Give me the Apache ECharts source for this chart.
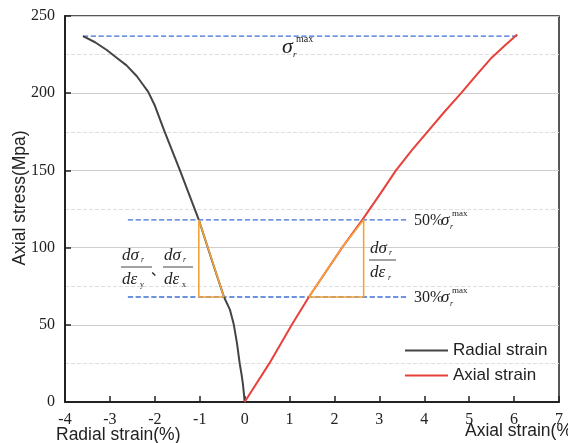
<!DOCTYPE html>
<html>
<head>
<meta charset="utf-8">
<script src="https://cdn.jsdelivr.net/npm/echarts@6/dist/echarts.min.js"></script>
<style>html,body{margin:0;padding:0;background:#fff}#c{width:568px;height:443px}</style>
</head>
<body>
<div id="c"></div>
<script>
// ---- data ----
const xTickLabels = ['-4','-3','-2','-1','0','1','2','3','4','5','6','7'];
const yTickLabels = ['0','50','100','150','200','250'];
const radialStrain = [0, -0.015, -0.04, -0.07, -0.11, -0.17, -0.24, -0.33, -0.46, -0.71, -1.02, -1.44, -1.78, -2.0, -2.15, -2.25, -2.4, -2.63, -2.85, -3.07, -3.33, -3.6];
const radialStress = [0, 5, 12, 18, 25, 38, 50, 60, 68, 90, 118, 150, 175, 192, 201, 205, 211, 218, 223, 228, 233, 237];
const axialStrain = [0, 0.55, 1.05, 1.43, 2.17, 2.62, 3.0, 3.37, 3.72, 4.07, 4.45, 4.82, 5.17, 5.5, 5.8, 6.07];
const axialStress = [0, 25, 50, 68, 100, 118, 134, 150, 163, 175, 188, 200, 212, 223, 231, 238];
const peakStress = 237;
const stress50 = 118;
const stress30 = 68;
const peakLineX = [-3.6, 6.07];
const refLineX = [-2.6, 3.62];
const leftTriX = [-1.02, -0.46];
const rightTriX = [1.43, 2.65];

const zip = (xs, ys) => xs.map((x, i) => [x, ys[i]]);
const serif = '"Liberation Serif", "DejaVu Serif", serif';
const sans = '"Liberation Sans", Arial, sans-serif';
const BLUE = '#3c6fd6', ORANGE = '#f2a43a';

const chart = echarts.init(document.getElementById('c'));

function txt(x, y, text, size, opts) {
  opts = opts || {};
  return {
    type: 'text', x: x, y: y, rotation: opts.rotation || 0, z: 100,
    style: {
      text: text,
      font: (opts.italic ? 'italic ' : '') + size + 'px ' + (opts.family || serif),
      fill: opts.color || '#222',
      align: opts.align || 'left',
      verticalAlign: opts.va || 'middle'
    }
  };
}
function bar(x1, x2, y) {
  return { type: 'line', z: 100, shape: { x1: x1, y1: y, x2: x2, y2: y }, style: { stroke: '#444', lineWidth: 1 } };
}
function sigmaLabel(x, y, prefix) {
  const els = [];
  let sx = x;
  if (prefix) { els.push(txt(x, y, prefix, 16)); sx = x + 27; }
  els.push(txt(sx, y, 'σ', 17, { italic: true }));
  els.push(txt(sx + 11, y - 7, 'max', 9));
  els.push(txt(sx + 9, y + 6, 'r', 8, { italic: true }));
  return els;
}
function frac(x, y, sub1, sub2, w) {
  return [
    txt(x, y - 11, 'dσ', 17, { italic: true }),
    txt(x + 19, y - 7, sub1, 8, { italic: true }),
    bar(x - 1, x + w, y),
    txt(x, y + 13, 'dε', 17, { italic: true }),
    txt(x + 18, y + 18, sub2, 8, { italic: sub2 === 'r' })
  ];
}

const graphics = [].concat(
  [txt(20, 198, 'Axial stress(Mpa)', 17.5, { family: sans, rotation: Math.PI / 2, align: 'center' })],
  [txt(56, 435, 'Radial strain(%)', 17.5, { family: sans })],
  [txt(465, 431, 'Axial strain(%', 17.5, { family: sans })],
  [txt(282, 47, 'σ', 22, { italic: true }), txt(296, 39, 'max', 10), txt(293, 55, 'r', 9, { italic: true })],
  sigmaLabel(414, 221, '50%'),
  sigmaLabel(414, 298, '30%'),
  frac(122, 267, 'r', 'y', 30),
  [txt(151, 270, '、', 14, { family: '"Noto Sans CJK SC", sans-serif' })],
  frac(164, 267, 'r', 'x', 29),
  frac(370, 260, 'r', 'r', 26)
);

const helper = (data, color, type, width) => ({
  type: 'line', data: data, showSymbol: false, silent: true, z: 3,
  lineStyle: { color: color, type: type, width: width }, itemStyle: { color: color }
});

chart.setOption({
  animation: false,
  backgroundColor: '#fff',
  grid: { left: 65, right: 9, top: 16, bottom: 41, show: true, borderColor: '#222', borderWidth: 1.5, backgroundColor: 'transparent' },
  legend: {
    data: ['Radial strain', 'Axial strain'],
    orient: 'vertical', left: 400, top: 337, itemWidth: 43, itemHeight: 2, itemGap: 8, icon: 'rect',
    textStyle: { fontFamily: sans, fontSize: 17, color: '#222' }
  },
  xAxis: {
    type: 'value', min: -4, max: 7, interval: 1,
    axisLine: { onZero: false, lineStyle: { color: '#222', width: 2 } },
    axisTick: { inside: true, length: 6, lineStyle: { color: '#222', width: 1.5 } },
    axisLabel: { fontFamily: serif, fontSize: 16, color: '#222', margin: 10, formatter: v => xTickLabels[v + 4] },
    splitLine: { show: false }
  },
  yAxis: {
    type: 'value', min: 0, max: 250, interval: 50,
    axisLine: { show: true, onZero: false, lineStyle: { color: '#222', width: 2 } },
    axisTick: { inside: true, length: 6, lineStyle: { color: '#222', width: 1.5 } },
    axisLabel: { fontFamily: serif, fontSize: 16, color: '#222', margin: 10, formatter: v => yTickLabels[v / 50] },
    splitLine: { lineStyle: { color: '#cfcfcf', width: 1 } },
    minorTick: { show: false, splitNumber: 2 },
    minorSplitLine: { show: true, lineStyle: { color: '#dedede', type: 'dashed', width: 1 } }
  },
  series: [
    helper([[peakLineX[0], peakStress], [peakLineX[1], peakStress]], BLUE, 'dashed', 1.3),
    helper([[refLineX[0], stress50], [refLineX[1], stress50]], BLUE, 'dashed', 1.3),
    helper([[refLineX[0], stress30], [refLineX[1], stress30]], BLUE, 'dashed', 1.3),
    {
      name: 'Radial strain', type: 'line', data: zip(radialStrain, radialStress), showSymbol: false, z: 4,
      lineStyle: { color: '#444', width: 2, join: 'round' }, itemStyle: { color: '#444' }
    },
    {
      name: 'Axial strain', type: 'line', data: zip(axialStrain, axialStress), showSymbol: false, z: 4,
      lineStyle: { color: '#e8413b', width: 2, join: 'round' }, itemStyle: { color: '#e8413b' }
    },
    Object.assign(helper([[leftTriX[0], stress50], [leftTriX[0], stress30], [leftTriX[1], stress30], [leftTriX[0], stress50]], ORANGE, 'solid', 1.6), { z: 5 }),
    Object.assign(helper([[rightTriX[0], stress30], [rightTriX[1], stress30], [rightTriX[1], stress50], [2.62, stress50], [2.17, 100], [rightTriX[0], stress30]], ORANGE, 'solid', 1.6), { z: 5 })
  ],
  graphic: graphics
});
</script>
</body>
</html>
